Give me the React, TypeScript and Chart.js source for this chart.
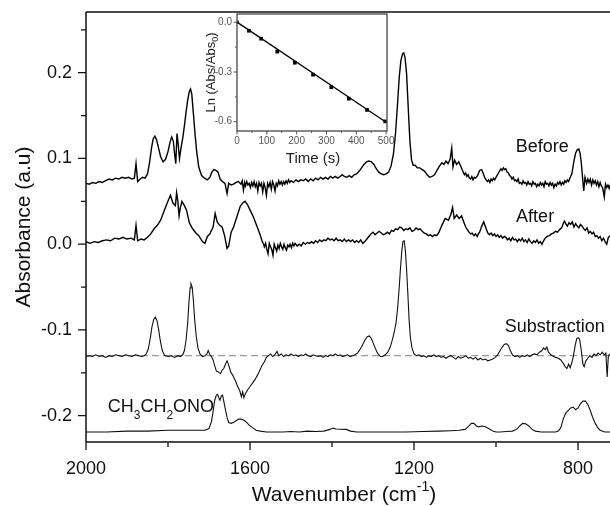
import React, { useEffect, useRef } from "react";
import { Chart, registerables } from "chart.js";
Chart.register(...registerables);

const FONT = "'Liberation Sans', Arial, Helvetica, sans-serif";

// ---------- main chart axes ----------
const xMajorTicks = [2000, 1600, 1200, 800];
const xMinorTicks = [1800, 1400, 1000];
const yMajorTicks = [0.2, 0.1, 0, -0.1, -0.2];
const yMinorTicks = [0.25, 0.15, 0.05, -0.05, -0.15];
const xRange = [722, 2000];
const yRange = [-0.2307, 0.2708];
const substractionBaseline = -0.13;

// ---------- spectra: [wavenumber (cm-1), absorbance] ----------
const beforeData: [number, number][] = [
  [2000,0.071],[1992,0.070],[1984,0.072],[1976,0.071],[1968,0.073],[1960,0.072],[1952,0.074],[1944,0.076],[1936,0.075],[1928,0.077],
  [1920,0.076],[1912,0.078],[1904,0.077],[1896,0.078],[1888,0.076],[1882,0.077],[1878,0.094],[1874,0.073],[1868,0.076],[1862,0.078],
  [1856,0.077],[1850,0.082],[1845,0.095],[1840,0.113],[1836,0.123],[1832,0.126],[1828,0.122],[1823,0.112],[1818,0.102],[1812,0.096],
  [1806,0.099],[1800,0.108],[1795,0.119],[1791,0.125],[1787,0.120],[1784,0.106],[1781,0.094],[1778,0.129],[1775,0.116],[1772,0.100],
  [1768,0.113],[1764,0.124],[1760,0.138],[1756,0.154],[1752,0.168],[1748,0.178],[1745,0.181],[1742,0.175],[1738,0.152],[1734,0.128],
  [1730,0.108],[1725,0.090],[1718,0.080],[1711,0.077],[1704,0.075],[1698,0.078],[1693,0.084],[1688,0.087],[1683,0.086],[1678,0.084],
  [1673,0.076],[1667,0.073],[1661,0.071],[1656,0.059],[1652,0.071],[1646,0.069],[1640,0.070],[1634,0.072],[1628,0.073],[1622,0.070],
  [1619,0.074],[1616,0.063],[1613,0.072],[1611,0.068],[1608,0.073],[1605,0.069],[1602,0.071],[1599,0.066],[1596,0.072],[1593,0.068],
  [1590,0.073],[1587,0.067],[1584,0.071],[1581,0.062],[1578,0.072],[1575,0.068],[1572,0.071],[1569,0.061],[1566,0.071],[1563,0.066],
  [1560,0.057],[1557,0.071],[1554,0.067],[1551,0.072],[1548,0.064],[1545,0.073],[1542,0.069],[1539,0.062],[1536,0.071],[1533,0.068],
  [1530,0.074],[1527,0.070],[1524,0.073],[1521,0.069],[1518,0.073],[1515,0.070],[1512,0.074],[1509,0.071],[1506,0.075],[1503,0.072],
  [1500,0.074],[1494,0.072],[1488,0.075],[1482,0.073],[1476,0.075],[1470,0.074],[1464,0.076],[1458,0.073],[1452,0.076],[1446,0.074],
  [1440,0.077],[1434,0.075],[1428,0.078],[1422,0.076],[1416,0.078],[1410,0.076],[1404,0.079],[1398,0.077],[1392,0.079],[1386,0.077],
  [1380,0.079],[1375,0.081],[1370,0.079],[1364,0.078],[1358,0.080],[1352,0.078],[1346,0.081],[1340,0.082],
  [1334,0.085],[1328,0.089],[1322,0.093],[1316,0.096],[1310,0.097],[1304,0.096],[1298,0.093],[1292,0.088],[1286,0.084],[1280,0.082],
  [1274,0.081],[1268,0.082],[1262,0.084],[1256,0.091],[1250,0.106],[1245,0.130],[1240,0.165],[1236,0.195],[1232,0.214],[1228,0.222],
  [1225,0.223],[1222,0.218],[1218,0.198],[1214,0.158],[1210,0.120],[1206,0.098],[1202,0.092],[1197,0.092],[1192,0.089],[1186,0.089],
  [1180,0.087],[1174,0.085],[1168,0.081],[1162,0.078],[1156,0.079],[1150,0.081],[1144,0.086],[1138,0.091],[1132,0.095],[1127,0.093],
  [1122,0.097],[1117,0.094],[1112,0.099],[1108,0.112],[1105,0.090],[1101,0.098],[1096,0.093],[1091,0.096],[1086,0.091],[1080,0.084],
  [1077,0.081],[1074,0.083],[1071,0.079],[1068,0.081],[1065,0.077],[1062,0.076],[1059,0.079],[1056,0.075],[1053,0.078],[1050,0.077],
  [1045,0.080],[1040,0.086],[1035,0.087],[1030,0.081],[1027,0.077],[1024,0.075],[1021,0.073],[1018,0.075],[1015,0.072],[1012,0.076],
  [1009,0.074],[1006,0.077],[1003,0.075],[1000,0.078],[994,0.083],[988,0.088],[985,0.086],[982,0.089],[979,0.087],[976,0.088],
  [973,0.084],[970,0.083],[967,0.080],[964,0.079],[961,0.076],[958,0.078],[955,0.074],[952,0.075],[949,0.073],[946,0.076],
  [943,0.071],[940,0.072],[937,0.070],[934,0.074],[931,0.071],[928,0.072],[925,0.069],[922,0.073],[919,0.070],[916,0.071],
  [913,0.068],[910,0.073],[907,0.070],[904,0.071],[901,0.067],[898,0.070],[895,0.068],[892,0.072],[889,0.069],[886,0.071],
  [883,0.067],[880,0.073],[877,0.070],[874,0.071],[871,0.068],[868,0.072],[865,0.069],[862,0.071],[859,0.066],[856,0.070],
  [853,0.068],[850,0.072],[847,0.070],[844,0.073],[841,0.069],[838,0.072],[835,0.070],[832,0.074],[829,0.072],[826,0.075],
  [823,0.073],[820,0.077],[815,0.082],[810,0.097],[806,0.106],[802,0.110],[798,0.111],[795,0.106],
  [792,0.095],[789,0.078],[786,0.062],[783,0.078],[779,0.071],[776,0.076],[773,0.072],[770,0.076],[767,0.069],[764,0.075],
  [761,0.071],[758,0.074],[755,0.069],[752,0.073],[749,0.067],[746,0.072],[743,0.068],[740,0.066],[736,0.055],[733,0.070],
  [730,0.066],[727,0.069],[724,0.065],[722,0.069]
];

const afterData: [number, number][] = [
  [2000,0.003],[1990,0.001],[1980,0.003],[1970,0.002],[1960,0.004],[1950,0.005],[1940,0.004],[1930,0.007],[1920,0.006],[1910,0.008],
  [1900,0.006],[1890,0.007],[1882,0.005],[1878,0.022],[1874,0.004],[1866,0.006],[1858,0.005],[1850,0.008],[1842,0.012],[1834,0.018],
  [1826,0.022],[1818,0.028],[1810,0.038],[1802,0.048],[1794,0.057],[1788,0.048],[1782,0.045],[1779,0.060],[1776,0.050],[1773,0.033],
  [1770,0.042],[1766,0.050],[1760,0.045],[1755,0.040],[1748,0.025],[1740,0.018],[1732,0.013],[1725,0.010],[1716,0.003],[1710,0.001],
  [1704,0.009],[1698,0.012],[1690,0.020],[1685,0.036],[1680,0.026],[1674,0.022],[1668,0.020],[1662,0.010],[1656,-0.005],[1652,-0.002],
  [1646,0.014],[1640,0.020],[1632,0.032],[1624,0.044],[1618,0.048],[1612,0.050],[1606,0.046],[1600,0.040],[1592,0.032],[1584,0.022],
  [1576,0.012],[1570,0.003],[1567,0.000],[1565,-0.003],[1562,0.001],[1559,-0.006],[1556,-0.011],[1553,0.001],[1550,-0.003],[1547,-0.006],
  [1544,-0.013],[1541,0.000],[1538,-0.004],[1535,-0.008],[1532,-0.001],[1529,-0.005],[1526,0.001],[1523,-0.003],[1520,-0.006],[1517,0.000],
  [1514,-0.004],[1511,-0.007],[1508,-0.001],[1505,-0.003],[1502,0.000],[1499,-0.004],[1496,0.001],[1493,-0.002],[1490,0.001],[1485,-0.002],
  [1480,0.000],[1475,-0.002],[1470,0.002],[1465,0.000],[1460,0.002],[1455,0.001],[1450,0.003],[1445,0.001],[1440,0.004],[1435,0.002],
  [1430,0.005],[1425,0.003],[1420,0.005],[1415,0.004],[1410,0.007],[1405,0.005],[1400,0.006],[1395,0.004],[1390,0.007],[1385,0.004],
  [1380,0.005],[1375,0.003],[1370,0.006],[1365,0.003],[1360,0.005],[1355,0.003],[1350,0.005],[1345,0.002],[1340,0.004],[1335,0.002],
  [1330,0.005],[1325,0.001],[1320,0.003],[1315,0.006],[1310,0.009],[1305,0.012],[1300,0.014],[1295,0.011],[1290,0.013],[1285,0.015],
  [1280,0.013],[1275,0.011],[1270,0.012],[1265,0.014],[1260,0.012],[1255,0.016],[1250,0.015],[1245,0.018],[1240,0.017],[1235,0.020],
  [1230,0.019],[1225,0.016],[1220,0.018],[1215,0.017],[1210,0.019],[1205,0.015],[1200,0.016],[1195,0.019],[1190,0.017],[1185,0.018],
  [1180,0.015],[1175,0.013],[1170,0.012],[1165,0.010],[1160,0.011],[1155,0.009],[1150,0.011],[1145,0.010],[1140,0.013],[1132,0.022],
  [1124,0.030],[1116,0.028],[1110,0.035],[1106,0.043],[1102,0.030],[1096,0.034],[1090,0.030],[1084,0.033],[1078,0.025],[1074,0.020],
  [1070,0.017],[1066,0.014],[1062,0.012],[1058,0.013],[1054,0.010],[1050,0.012],[1046,0.009],[1043,0.012],[1040,0.014],[1034,0.022],
  [1030,0.026],[1024,0.018],[1020,0.013],[1016,0.011],[1012,0.013],[1008,0.010],[1004,0.012],[1000,0.009],[996,0.011],[992,0.008],
  [988,0.010],[984,0.007],[980,0.009],[976,0.008],[972,0.005],[968,0.007],[964,0.004],[960,0.008],[956,0.005],[952,0.006],
  [948,0.003],[944,0.006],[940,0.004],[936,0.007],[932,0.003],[928,0.005],[924,0.002],[920,0.006],[916,0.003],[912,0.001],
  [908,0.004],[904,0.002],[900,0.005],[896,0.001],[892,0.003],[888,0.000],[884,0.004],[880,0.007],[875,0.009],[870,0.010],
  [865,0.012],[860,0.013],[855,0.015],[850,0.014],[845,0.017],[840,0.019],[836,0.024],[833,0.027],[829,0.023],[826,0.021],
  [822,0.025],[818,0.023],[814,0.026],[810,0.020],[806,0.024],[802,0.021],[798,0.019],[794,0.023],[790,0.021],[786,0.018],
  [782,0.016],[778,0.019],[774,0.013],[770,0.015],[766,0.012],[762,0.014],[758,0.009],[754,0.010],[750,0.007],[746,0.009],
  [742,0.004],[738,0.007],[734,0.003],[730,0.000],[726,0.008],[722,0.010]
];

const substractionData: [number, number][] = [
  [2000,-0.131],[1992,-0.130],[1984,-0.131],[1976,-0.129],[1968,-0.131],[1960,-0.130],[1952,-0.132],[1944,-0.130],[1936,-0.131],[1928,-0.129],
  [1920,-0.130],[1912,-0.131],[1904,-0.129],[1896,-0.130],[1888,-0.131],[1880,-0.129],[1872,-0.130],[1864,-0.131],[1858,-0.130],[1853,-0.128],
  [1848,-0.122],[1843,-0.109],[1839,-0.096],[1835,-0.088],[1831,-0.085],[1827,-0.089],[1823,-0.099],[1819,-0.112],[1814,-0.124],[1808,-0.130],
  [1800,-0.131],[1792,-0.130],[1784,-0.132],[1776,-0.130],[1770,-0.131],[1764,-0.129],[1760,-0.124],[1756,-0.112],[1752,-0.092],[1749,-0.068],
  [1746,-0.051],[1744,-0.046],[1741,-0.050],[1738,-0.066],[1735,-0.088],[1731,-0.108],[1727,-0.121],[1722,-0.128],[1716,-0.131],[1710,-0.130],
  [1705,-0.128],[1702,-0.124],[1698,-0.129],[1694,-0.131],[1690,-0.135],[1686,-0.142],[1682,-0.148],[1677,-0.149],[1672,-0.151],[1668,-0.147],
  [1664,-0.145],[1660,-0.140],[1656,-0.136],[1652,-0.141],[1647,-0.149],[1642,-0.153],[1636,-0.159],[1630,-0.166],[1625,-0.171],[1621,-0.178],
  [1618,-0.172],[1615,-0.179],[1611,-0.174],[1606,-0.170],[1600,-0.166],[1594,-0.162],[1588,-0.158],[1582,-0.153],[1576,-0.147],[1570,-0.141],
  [1565,-0.137],[1560,-0.132],[1555,-0.130],[1550,-0.128],[1545,-0.131],[1540,-0.129],[1534,-0.125],[1530,-0.130],[1524,-0.128],[1518,-0.131],
  [1512,-0.129],[1506,-0.130],[1500,-0.128],[1494,-0.130],[1488,-0.129],[1482,-0.131],[1476,-0.129],[1470,-0.130],[1464,-0.128],[1458,-0.130],
  [1452,-0.131],[1446,-0.129],[1440,-0.130],[1434,-0.131],[1428,-0.130],[1422,-0.132],[1416,-0.130],[1410,-0.131],[1404,-0.129],[1398,-0.130],
  [1392,-0.128],[1386,-0.130],[1380,-0.129],[1374,-0.131],[1368,-0.130],[1362,-0.129],[1356,-0.131],[1350,-0.130],[1344,-0.129],[1338,-0.127],
  [1332,-0.123],[1326,-0.118],[1320,-0.112],[1314,-0.108],[1309,-0.107],[1304,-0.110],[1299,-0.116],[1294,-0.122],[1288,-0.128],[1282,-0.131],
  [1276,-0.131],[1270,-0.129],[1264,-0.126],[1258,-0.120],[1253,-0.112],[1248,-0.102],[1244,-0.092],[1240,-0.075],[1236,-0.050],[1233,-0.028],
  [1230,-0.009],[1227,0.003],[1224,0.004],[1221,-0.008],[1218,-0.030],[1215,-0.058],[1212,-0.088],[1209,-0.108],[1205,-0.121],[1200,-0.128],
  [1194,-0.130],[1188,-0.129],[1182,-0.131],[1176,-0.130],[1170,-0.132],[1164,-0.130],[1158,-0.131],[1152,-0.129],[1146,-0.131],[1140,-0.130],
  [1134,-0.132],[1128,-0.131],[1122,-0.133],[1116,-0.131],[1110,-0.130],[1104,-0.132],[1098,-0.134],[1092,-0.131],[1086,-0.133],[1080,-0.132],
  [1074,-0.130],[1068,-0.133],[1062,-0.132],[1056,-0.134],[1050,-0.132],[1044,-0.135],[1038,-0.133],[1032,-0.135],[1026,-0.134],[1020,-0.136],
  [1014,-0.135],[1008,-0.134],[1002,-0.132],[996,-0.129],[990,-0.124],[985,-0.120],[980,-0.117],[975,-0.116],[970,-0.118],[965,-0.124],
  [960,-0.129],[954,-0.131],[948,-0.130],[942,-0.132],[936,-0.130],[930,-0.131],[924,-0.129],[918,-0.131],[912,-0.129],[906,-0.128],
  [900,-0.129],[894,-0.126],[888,-0.124],[884,-0.121],[880,-0.123],[876,-0.120],[872,-0.126],[866,-0.129],[860,-0.131],[854,-0.132],
  [848,-0.133],[842,-0.135],[836,-0.139],[831,-0.143],[827,-0.145],[823,-0.140],[819,-0.144],[815,-0.138],[811,-0.130],[807,-0.118],
  [803,-0.110],[799,-0.109],[796,-0.111],[792,-0.124],[788,-0.140],[785,-0.143],[781,-0.136],[776,-0.133],[771,-0.130],[766,-0.132],
  [761,-0.128],[756,-0.130],[751,-0.127],[746,-0.129],[741,-0.126],[736,-0.129],[732,-0.127],[729,-0.155],[726,-0.130],[722,-0.128]
];

const ethylNitriteData: [number, number][] = [
  [2000,-0.219],[1950,-0.219],[1900,-0.218],[1850,-0.218],[1800,-0.217],[1750,-0.217],[1710,-0.217],[1700,-0.215],[1694,-0.207],[1690,-0.195],
  [1686,-0.182],[1682,-0.176],[1679,-0.175],[1676,-0.179],[1673,-0.182],[1670,-0.177],[1667,-0.176],[1664,-0.183],[1660,-0.193],[1656,-0.202],
  [1652,-0.208],[1646,-0.209],[1640,-0.208],[1634,-0.206],[1628,-0.204],[1622,-0.204],[1616,-0.205],[1610,-0.207],[1602,-0.211],[1594,-0.214],
  [1585,-0.217],[1575,-0.218],[1560,-0.219],[1540,-0.219],[1520,-0.219],[1500,-0.2185],[1480,-0.219],[1460,-0.218],[1440,-0.2185],[1420,-0.218],
  [1405,-0.216],[1398,-0.2145],[1390,-0.2155],[1380,-0.2158],[1365,-0.216],[1355,-0.218],[1340,-0.219],[1300,-0.219],[1260,-0.219],[1220,-0.219],
  [1180,-0.2185],[1140,-0.218],[1110,-0.2175],[1090,-0.217],[1075,-0.216],[1066,-0.212],[1060,-0.209],[1054,-0.209],[1048,-0.212],[1042,-0.213],
  [1034,-0.212],[1026,-0.213],[1018,-0.215],[1008,-0.218],[1000,-0.219],[990,-0.219],[975,-0.2185],[960,-0.218],[950,-0.216],[942,-0.212],
  [935,-0.209],[928,-0.2095],[920,-0.212],[912,-0.216],[904,-0.218],[890,-0.219],[870,-0.219],[855,-0.219],[848,-0.218],[842,-0.214],
  [836,-0.204],[830,-0.197],[824,-0.194],[818,-0.191],[812,-0.190],[806,-0.193],[800,-0.191],[794,-0.186],[788,-0.183],[782,-0.183],
  [776,-0.187],[770,-0.194],[765,-0.201],[758,-0.209],[752,-0.214],[746,-0.217],[735,-0.219],[722,-0.219]
];

// ---------- inset ----------
const insetTime = [0, 40, 81, 135, 194, 255, 316, 375, 436, 497];
const insetLn = [0, -0.051, -0.099, -0.177, -0.244, -0.316, -0.392, -0.461, -0.529, -0.598];
const insetFitTime = [0, 500];
const insetFitLn = [0.001, -0.603];
const insetXTicks = [0, 100, 200, 300, 400, 500];
const insetXMinor = [50, 150, 250, 350, 450];
const insetYTicks = [0, -0.3, -0.6];
const insetYMinor = [-0.15, -0.45];
const insetXRange = [0, 503];
const insetYRange = [-0.656, 0.05];

const toXY = (d: [number, number][]) => d.map(([x, y]) => ({ x, y }));
const noScalePad = (s: any) => { s.paddingTop = 0; s.paddingBottom = 0; s.paddingLeft = 0; s.paddingRight = 0; };

const mainDecor = {
  id: "mainDecor",
  afterDraw(chart: any) {
    const { ctx, chartArea: ca, scales } = chart;
    const x = scales.x, y = scales.y;
    ctx.save();
    ctx.strokeStyle = "#111";
    ctx.lineWidth = 1.5;
    ctx.beginPath();
    ctx.moveTo(ca.left, ca.top); ctx.lineTo(ca.right, ca.top);
    ctx.moveTo(ca.left, ca.top); ctx.lineTo(ca.left, ca.bottom);
    ctx.moveTo(ca.left, ca.bottom); ctx.lineTo(ca.right, ca.bottom);
    ctx.stroke();
    ctx.lineWidth = 1.3;
    ctx.beginPath();
    xMajorTicks.forEach(v => { const p = x.getPixelForValue(v); ctx.moveTo(p, ca.bottom); ctx.lineTo(p, ca.bottom + 8); });
    xMinorTicks.forEach(v => { const p = x.getPixelForValue(v); ctx.moveTo(p, ca.bottom); ctx.lineTo(p, ca.bottom + 5); });
    yMajorTicks.forEach(v => { const p = y.getPixelForValue(v); ctx.moveTo(ca.left, p); ctx.lineTo(ca.left - 8, p); });
    yMinorTicks.forEach(v => { const p = y.getPixelForValue(v); ctx.moveTo(ca.left, p); ctx.lineTo(ca.left - 5, p); });
    ctx.stroke();

    // curve labels
    ctx.fillStyle = "#111";
    ctx.textBaseline = "middle";
    ctx.textAlign = "left";
    ctx.font = `18px ${FONT}`;
    ctx.fillText("Before", x.getPixelForValue(952), y.getPixelForValue(0.1137));
    ctx.fillText("After", x.getPixelForValue(951), y.getPixelForValue(0.0321));
    ctx.fillText("Substraction", x.getPixelForValue(979), y.getPixelForValue(-0.0969));
    // CH3CH2ONO with subscripts
    let cx = x.getPixelForValue(1947);
    const cy = y.getPixelForValue(-0.1895);
    const parts: [string, boolean][] = [["CH", false], ["3", true], ["CH", false], ["2", true], ["ONO", false]];
    parts.forEach(([t, sub]) => {
      ctx.font = sub ? `12px ${FONT}` : `18px ${FONT}`;
      ctx.fillText(t, cx, sub ? cy + 9 : cy);
      cx += ctx.measureText(t).width;
    });

    // axis titles
    ctx.font = `21px ${FONT}`;
    ctx.textBaseline = "alphabetic";
    ctx.save();
    ctx.translate(30, (ca.top + ca.bottom) / 2);
    ctx.rotate(-Math.PI / 2);
    ctx.textAlign = "center";
    ctx.fillText("Absorbance (a.u)", 0, 0);
    ctx.restore();

    const main = "Wavenumber (cm";
    const sup = "-1";
    const close = ")";
    ctx.font = `21px ${FONT}`;
    const w1 = ctx.measureText(main).width;
    const w3 = ctx.measureText(close).width;
    ctx.font = `14px ${FONT}`;
    const w2 = ctx.measureText(sup).width;
    const total = w1 + w2 + w3;
    const centerX = (ca.left + ca.right) / 2 - 4;
    let tx = centerX - total / 2;
    const by = 501;
    ctx.textAlign = "left";
    ctx.font = `21px ${FONT}`;
    ctx.fillText(main, tx, by);
    tx += w1;
    ctx.font = `14px ${FONT}`;
    ctx.fillText(sup, tx, by - 10);
    tx += w2;
    ctx.font = `21px ${FONT}`;
    ctx.fillText(close, tx, by);
    ctx.restore();
  }
};

const insetDecor = {
  id: "insetDecor",
  beforeDraw(chart: any) {
    const { ctx, chartArea: ca } = chart;
    ctx.save();
    ctx.fillStyle = "#fff";
    ctx.fillRect(ca.left, ca.top, ca.right - ca.left, ca.bottom - ca.top);
    ctx.restore();
  },
  afterDraw(chart: any) {
    const { ctx, chartArea: ca, scales } = chart;
    const x = scales.x, y = scales.y;
    ctx.save();
    ctx.strokeStyle = "#555";
    ctx.lineWidth = 1.4;
    ctx.strokeRect(ca.left, ca.top, ca.right - ca.left, ca.bottom - ca.top);
    ctx.lineWidth = 1;
    ctx.beginPath();
    insetXTicks.forEach(v => { const p = x.getPixelForValue(v); ctx.moveTo(p, ca.bottom); ctx.lineTo(p, ca.bottom + 3.5); });
    insetXMinor.forEach(v => { const p = x.getPixelForValue(v); ctx.moveTo(p, ca.bottom); ctx.lineTo(p, ca.bottom + 2); });
    insetYTicks.forEach(v => { const p = y.getPixelForValue(v); ctx.moveTo(ca.left, p); ctx.lineTo(ca.left - 3.5, p); });
    insetYMinor.forEach(v => { const p = y.getPixelForValue(v); ctx.moveTo(ca.left, p); ctx.lineTo(ca.left - 2, p); });
    ctx.stroke();

    ctx.fillStyle = "#222";
    ctx.font = `15px ${FONT}`;
    ctx.textAlign = "center";
    ctx.textBaseline = "alphabetic";
    ctx.fillText("Time (s)", (ca.left + ca.right) / 2 + 1, 163);

    // rotated y title with subscript
    ctx.save();
    ctx.translate(ca.left - 22, (ca.top + ca.bottom) / 2);
    ctx.rotate(-Math.PI / 2);
    const a = "Ln (Abs/Abs";
    const s = "0";
    const c = ")";
    ctx.font = `13px ${FONT}`;
    const wa = ctx.measureText(a).width;
    const wc = ctx.measureText(c).width;
    ctx.font = `9px ${FONT}`;
    const ws = ctx.measureText(s).width;
    let tx = -(wa + ws + wc) / 2;
    ctx.textAlign = "left";
    ctx.font = `13px ${FONT}`;
    ctx.fillText(a, tx, 0);
    tx += wa;
    ctx.font = `9px ${FONT}`;
    ctx.fillText(s, tx, 3);
    tx += ws;
    ctx.font = `13px ${FONT}`;
    ctx.fillText(c, tx, 0);
    ctx.restore();
    ctx.restore();
  }
};

export default function App() {
  const mainRef = useRef<HTMLCanvasElement>(null);
  const insetRef = useRef<HTMLCanvasElement>(null);

  useEffect(() => {
    const main = new Chart(mainRef.current as HTMLCanvasElement, {
      type: "line",
      data: {
        datasets: [
          { label: "Before", data: toXY(beforeData), borderColor: "#000", borderWidth: 1.4, pointRadius: 0, tension: 0 },
          { label: "After", data: toXY(afterData), borderColor: "#000", borderWidth: 1.4, pointRadius: 0, tension: 0 },
          { label: "Substraction", data: toXY(substractionData), borderColor: "#111", borderWidth: 1.1, pointRadius: 0, tension: 0 },
          { label: "CH3CH2ONO", data: toXY(ethylNitriteData), borderColor: "#111", borderWidth: 1.1, pointRadius: 0, tension: 0 },
          {
            label: "baseline",
            data: [{ x: xRange[1], y: substractionBaseline }, { x: xRange[0], y: substractionBaseline }],
            borderColor: "#9a9a9a", borderWidth: 1.2, borderDash: [7, 4], pointRadius: 0
          }
        ]
      },
      options: {
        animation: false,
        responsive: false,
        maintainAspectRatio: false,
        layout: { padding: { top: 12, right: 0, left: 0, bottom: 0 } },
        plugins: { legend: { display: false }, tooltip: { enabled: false } },
        scales: {
          x: {
            type: "linear", min: xRange[0], max: xRange[1], reverse: true,
            afterBuildTicks: (s: any) => { s.ticks = xMajorTicks.map(v => ({ value: v })); },
            afterFit: (s: any) => { s.height = 64; noScalePad(s); },
            grid: { display: false, drawTicks: false },
            border: { display: false },
            ticks: { font: { family: FONT, size: 18 }, color: "#111", padding: 16, maxRotation: 0, autoSkip: false, callback: (v: any) => String(v) }
          },
          y: {
            type: "linear", min: yRange[0], max: yRange[1],
            afterBuildTicks: (s: any) => { s.ticks = yMajorTicks.map(v => ({ value: v })); },
            afterFit: (s: any) => { s.width = 86; noScalePad(s); },
            grid: { display: false, drawTicks: false },
            border: { display: false },
            ticks: { font: { family: FONT, size: 18 }, color: "#111", padding: 14, autoSkip: false, callback: (v: any) => Number(v).toFixed(1) }
          }
        }
      },
      plugins: [mainDecor]
    });

    const inset = new Chart(insetRef.current as HTMLCanvasElement, {
      type: "line",
      data: {
        datasets: [
          {
            label: "points", data: insetTime.map((t, i) => ({ x: t, y: insetLn[i] })),
            showLine: false, pointStyle: "rect", pointRadius: 2.6, backgroundColor: "#000", borderColor: "#000", borderWidth: 0
          },
          {
            label: "fit", data: insetFitTime.map((t, i) => ({ x: t, y: insetFitLn[i] })),
            borderColor: "#000", borderWidth: 1.3, pointRadius: 0
          }
        ]
      },
      options: {
        animation: false,
        responsive: false,
        maintainAspectRatio: false,
        layout: { padding: { top: 14, right: 23, left: 0, bottom: 0 } },
        plugins: { legend: { display: false }, tooltip: { enabled: false } },
        scales: {
          x: {
            type: "linear", min: insetXRange[0], max: insetXRange[1],
            afterBuildTicks: (s: any) => { s.ticks = insetXTicks.map(v => ({ value: v })); },
            afterFit: (s: any) => { s.height = 44; noScalePad(s); },
            grid: { display: false, drawTicks: false },
            border: { display: false },
            ticks: { font: { family: FONT, size: 10 }, color: "#555", padding: 4, maxRotation: 0, autoSkip: false, callback: (v: any) => String(v) }
          },
          y: {
            type: "linear", min: insetYRange[0], max: insetYRange[1],
            afterBuildTicks: (s: any) => { s.ticks = insetYTicks.map(v => ({ value: v })); },
            afterFit: (s: any) => { s.width = 57; noScalePad(s); },
            grid: { display: false, drawTicks: false },
            border: { display: false },
            ticks: { font: { family: FONT, size: 10 }, color: "#555", padding: 5, autoSkip: false, callback: (v: any) => Number(v).toFixed(1) }
          }
        }
      },
      plugins: [insetDecor]
    });

    return () => { main.destroy(); inset.destroy(); };
  }, []);

  return (
    <div style={{ position: "absolute", left: 0, top: 0, width: 610, height: 506, background: "#fff" }}>
      <canvas ref={mainRef} width={610} height={506} style={{ position: "absolute", left: 0, top: 0, width: 610, height: 506 }} />
      <canvas ref={insetRef} width={230} height={175} style={{ position: "absolute", left: 180, top: 0, width: 230, height: 175 }} />
    </div>
  );
}
